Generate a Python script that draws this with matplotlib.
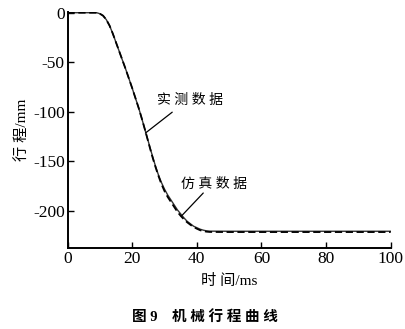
import matplotlib
matplotlib.use("Agg")
import matplotlib.pyplot as plt

# measured stroke curve (ms, mm)
t_meas = [0, 9, 10, 11, 12, 13, 14, 15, 16, 17, 18, 19, 20, 21, 22, 23, 24,
          25, 26, 27, 28, 29, 30, 31, 32, 33, 34, 35, 36, 37, 38, 39, 40,
          41, 42, 43, 44, 50, 60, 70, 80, 90, 100]
s_meas = [0, 0, -1, -3, -7, -13, -21, -30, -39, -48, -57, -66.5, -76, -86,
          -96, -107, -118.5, -130, -141.5, -152.5, -162.5, -171, -178, -184,
          -189, -194, -199, -203, -207, -210.5, -213, -215.5, -217, -218.5,
          -219.5, -220.2, -220.5, -220.6, -220.6, -220.6, -220.6, -220.6,
          -220.6]

# simulated stroke curve (ms, mm)
t_sim = [0, 9, 10, 11, 12, 13, 14, 15, 16, 17, 18, 19, 20, 21, 22, 23, 24,
         25, 26, 27, 28, 29, 30, 31, 32, 33, 34, 35, 36, 37, 38, 39, 40,
         41, 42, 43, 44, 50, 60, 70, 80, 90, 100]
s_sim = [0, 0, -1, -3, -7, -13, -21, -30, -39, -48, -57, -66.5, -76, -86,
         -96, -107, -118.5, -130.5, -142.5, -153.5, -163.5, -172.5, -180,
         -186, -191, -196, -201, -205, -208.5, -211.5, -214, -216.3, -218,
         -219.5, -220.5, -221, -221.3, -221.4, -221.4, -221.4, -221.4,
         -221.4, -221.4]

xticks = [0, 20, 40, 60, 80, 100]
yticks = [0, -50, -100, -150, -200]

mixed = ["Liberation Serif", "Noto Sans CJK SC", "DejaVu Sans"]

fig = plt.figure(figsize=(4.06, 3.29), dpi=100)
ax = fig.add_axes([0.1663, 0.2462, 0.7960, 0.7182])

ax.plot(t_meas, s_meas, color="#333333", lw=1.0)
ax.plot(t_sim, s_sim, color="black", lw=1.3, ls=(0, (4, 2)))

ax.set_xlim(0, 100)
ax.set_ylim(-237.5, 1)
ax.set_xticks(xticks)
ax.set_yticks(yticks)
ax.set_xticklabels([str(v) for v in xticks], family=mixed, fontsize=12.5)
ax.set_yticklabels([str(v) for v in yticks], family=mixed, fontsize=12.5)
ax.tick_params(direction="in", length=4, width=1.0, pad=2)

for side in ["top", "right"]:
    ax.spines[side].set_visible(False)
for side in ["left", "bottom"]:
    ax.spines[side].set_linewidth(1.4)

ax.set_xlabel("时 间/ms", family=mixed, fontsize=11, labelpad=5)
ax.set_ylabel("行 程/mm", family=mixed, fontsize=11, labelpad=2)

# labels and their leader lines
ax.text(38, -89, "实 测 数 据", family=mixed, fontsize=10,
        ha="center", va="center")
ax.annotate("", xy=(24.1, -121.5), xytext=(32.4, -100.4),
            arrowprops=dict(arrowstyle="-", color="black", lw=0.9,
                            shrinkA=0, shrinkB=0))
ax.text(45.4, -173, "仿 真 数 据", family=mixed, fontsize=10,
        ha="center", va="center")
ax.annotate("", xy=(35.2, -205.4), xytext=(42, -182),
            arrowprops=dict(arrowstyle="-", color="black", lw=0.9,
                            shrinkA=0, shrinkB=0))

fig.text(0.505, 0.037, "图 9    机 械 行 程 曲 线", family=mixed,
         fontsize=10.5, fontweight="bold", ha="center", va="center")

fig.savefig("out.png", dpi=100)
